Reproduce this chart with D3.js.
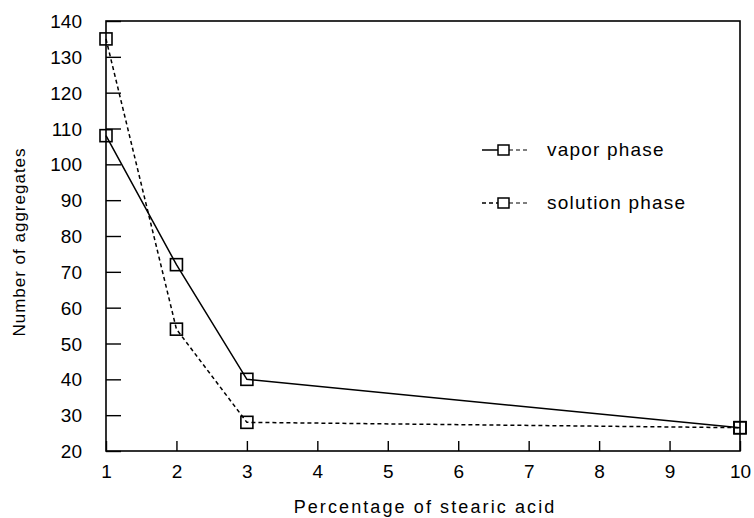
<!DOCTYPE html>
<html><head><meta charset="utf-8">
<script src="https://cdn.jsdelivr.net/npm/d3@7"></script>
<style>body{margin:0;background:#fff}text{font-family:"Liberation Sans",Arial,sans-serif;fill:#000}</style>
</head><body>
<svg id="c" width="754" height="518"></svg>
<script>
const xValues = [1, 2, 3, 10];
const vaporPhase = [108, 72, 40, 26.5];
const solutionPhase = [135, 54, 28, 26.5];
const xTicks = [1,2,3,4,5,6,7,8,9,10];
const yTicks = [20,30,40,50,60,70,80,90,100,110,120,130,140];
const seriesNames = ["vapor phase", "solution phase"];

const svg = d3.select("#c");
const L = 106, R = 740, T = 21, B = 451;
const x = d3.scaleLinear().domain([1,10]).range([L,R]);
const y = d3.scaleLinear().domain([20,140]).range([B,T]);
const FONT = "Liberation Sans, Arial, sans-serif";

svg.append("rect").attr("x",L).attr("y",T).attr("width",R-L).attr("height",B-T)
  .attr("fill","none").attr("stroke","#000").attr("stroke-width",1.6);

const ya = svg.append("g").attr("transform",`translate(${L},0)`)
  .call(d3.axisLeft(y).tickValues(yTicks).tickSize(-15).tickPadding(24).tickFormat(d3.format("d")));
ya.select(".domain").remove();
ya.selectAll("line").attr("stroke-width",1.4);
ya.selectAll("text").attr("font-size",19).style("font-family",FONT).attr("dy","0.35em");

const xa = svg.append("g").attr("transform",`translate(0,${B})`)
  .call(d3.axisBottom(x).tickValues(xTicks).tickSize(-10).tickPadding(14).tickFormat(d3.format("d")));
xa.select(".domain").remove();
xa.selectAll("line").attr("stroke-width",1.4);
xa.selectAll("text").attr("font-size",19).style("font-family",FONT);

svg.append("text").attr("x",425).attr("y",513).attr("text-anchor","middle")
  .attr("font-size",18).attr("letter-spacing",2.1).text("Percentage of stearic acid");
svg.append("text").attr("transform",`translate(25,242) rotate(-90)`).attr("text-anchor","middle")
  .attr("font-size",17).attr("letter-spacing",1.0).text("Number of aggregates");

const line = d3.line().x(d=>x(d[0])).y(d=>y(d[1]));
const series = [
  {vals: vaporPhase, dash: null},
  {vals: solutionPhase, dash: "4,3"}
];
series.forEach(s => {
  const pts = xValues.map((v,i)=>[v, s.vals[i]]);
  svg.append("path").datum(pts).attr("d",line).attr("fill","none")
    .attr("stroke","#000").attr("stroke-width",1.5).attr("stroke-dasharray",s.dash);
  svg.selectAll(null).data(pts).enter().append("rect")
    .attr("x",d=>x(d[0])-6).attr("y",d=>y(d[1])-6).attr("width",12).attr("height",12)
    .attr("fill","none").attr("stroke","#000").attr("stroke-width",1.6);
});

// legend
const ly = [150, 203];
series.forEach((s,i)=>{
  const g = svg.append("g");
  g.append("line").attr("x1",482).attr("x2",498).attr("y1",ly[i]).attr("y2",ly[i])
    .attr("stroke","#000").attr("stroke-width",1.5).attr("stroke-dasharray",s.dash);
  g.append("line").attr("x1",509).attr("x2",527).attr("y1",ly[i]).attr("y2",ly[i])
    .attr("stroke","#000").attr("stroke-width",1.2).attr("stroke-dasharray","4,3");
  g.append("rect").attr("x",498).attr("y",ly[i]-5).attr("width",11).attr("height",10)
    .attr("fill","#fff").attr("stroke","#000").attr("stroke-width",1.5);
  g.append("text").attr("x",547).attr("y",ly[i]+6).attr("font-size",19)
    .attr("letter-spacing",1.2).text(seriesNames[i]);
});
</script>
</body></html>
